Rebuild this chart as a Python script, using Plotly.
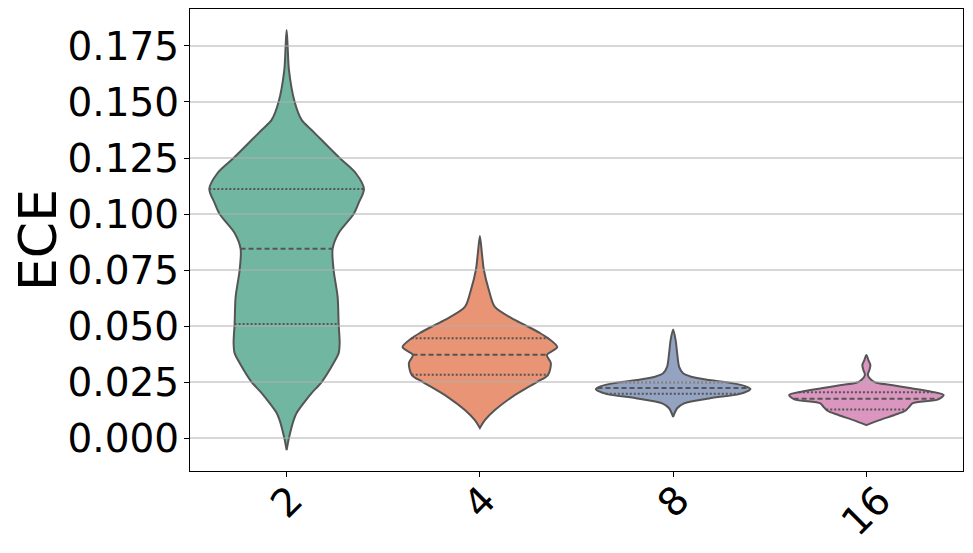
import numpy as np
import plotly.graph_objects as go

# group sizes on the x axis
categories = ["2", "4", "8", "16"]
colors = ["#71b6a1", "#e99575", "#95a3c3", "#db96c0"]

# violin outlines: ECE value and relative half width (1 = widest)
ece_2 = [0.1821, 0.1750, 0.1643, 0.1501, 0.1420, 0.1375, 0.1330, 0.1250, 0.1183, 0.1112, 0.1049, 0.1000,
         0.0915, 0.0844, 0.0750, 0.0629, 0.0509, 0.0424, 0.0379, 0.0335, 0.0250, 0.0201, 0.0156, 0.0112,
         0.0080, 0.0000, -0.0054]
dens_2 = [0, 0.013, 0.030, 0.103, 0.194, 0.323, 0.453, 0.686, 0.893, 1.0, 0.931, 0.867,
          0.673, 0.595, 0.608, 0.660, 0.673, 0.686, 0.673, 0.608, 0.453, 0.323, 0.220, 0.129,
          0.091, 0.030, 0]
ece_4 = [0.0902, 0.0826, 0.0750, 0.0661, 0.0585, 0.0527, 0.0500, 0.0469, 0.0446, 0.0406, 0.0371, 0.0335,
         0.0281, 0.0250, 0.0183, 0.0125, 0.0080, 0.0045]
dens_4 = [0, 0.026, 0.052, 0.116, 0.194, 0.453, 0.608, 0.776, 0.880, 1.0, 0.867, 0.918,
          0.880, 0.737, 0.414, 0.194, 0.065, 0]
ece_8 = [0.0485, 0.0438, 0.0379, 0.0318, 0.0289, 0.0274, 0.0259, 0.0244, 0.0232, 0.0219, 0.0208, 0.0196,
         0.0177, 0.0155, 0.0133, 0.0095]
dens_8 = [0, 0.032, 0.052, 0.078, 0.129, 0.233, 0.466, 0.776, 0.931, 1.0, 0.957, 0.854,
          0.466, 0.142, 0.052, 0]
ece_16 = [0.0371, 0.0348, 0.0326, 0.0304, 0.0281, 0.0259, 0.0247, 0.0237, 0.0222, 0.0207, 0.0192, 0.0173,
          0.0155, 0.0140, 0.0122, 0.0103, 0.0080, 0.0058]
dens_16 = [0, 0.026, 0.052, 0.039, 0.019, 0.065, 0.129, 0.323, 0.582, 0.841, 1.0, 0.931,
           0.595, 0.556, 0.505, 0.362, 0.168, 0]

# quartiles (q1, median, q3)
quart_2 = [0.0509, 0.0845, 0.1112]
quart_4 = [0.0283, 0.0372, 0.0445]
quart_8 = [0.0198, 0.0223, 0.0249]
quart_16 = [0.0127, 0.0176, 0.0204]

yticks = [0.0, 0.025, 0.05, 0.075, 0.1, 0.125, 0.15, 0.175]

profiles = [(ece_2, dens_2, quart_2), (ece_4, dens_4, quart_4),
            (ece_8, dens_8, quart_8), (ece_16, dens_16, quart_16)]

half = 0.4
edge = "#555555"
fig = go.Figure()

for i, (ece, dens, quart) in enumerate(profiles):
    ece = np.array(ece)
    w = np.array(dens) * half
    xs = np.concatenate([i + w, (i - w)[::-1]])
    ys = np.concatenate([ece, ece[::-1]])
    fig.add_trace(go.Scatter(x=xs, y=ys, mode="lines", fill="toself", fillcolor=colors[i],
                             line=dict(color=edge, width=2, shape="spline", smoothing=0.8),
                             hoverinfo="skip", showlegend=False))
    for j, q in enumerate(quart):
        hw = np.interp(q, ece[::-1], w[::-1])
        fig.add_trace(go.Scatter(x=[i - hw, i + hw], y=[q, q], mode="lines",
                                 line=dict(color=edge, width=2,
                                           dash="5px,3px" if j == 1 else "2px,2px"),
                                 hoverinfo="skip", showlegend=False))

# gridlines drawn over the violins, like the reference
for t in yticks:
    fig.add_shape(type="line", xref="paper", x0=0, x1=1, yref="y", y0=t, y1=t,
                  line=dict(color="#b0b0b0", width=1.1), layer="above")

# rotated category labels
for i, c in enumerate(categories):
    fig.add_annotation(x=i, y=0, xref="x", yref="paper", text=c, showarrow=False,
                       textangle=-45, xanchor="center", yanchor="top", yshift=-3,
                       font=dict(family="DejaVu Sans", size=39, color="black"))

# page body has an 8px margin, so the figure is a bit smaller than the window
fig.update_layout(
    width=965, height=545, autosize=False,
    plot_bgcolor="white", paper_bgcolor="white",
    margin=dict(l=182, r=10, t=1, b=82),
    font=dict(family="DejaVu Sans", color="black"),
)
fig.update_xaxes(range=[-0.5, 3.5], tickvals=[0, 1, 2, 3], showticklabels=False, automargin=False,
                 ticks="outside", ticklen=5, tickcolor="black", showgrid=False, zeroline=False,
                 showline=True, linecolor="black", linewidth=1, mirror=True)
fig.update_yaxes(range=[-0.0147, 0.1915], tickvals=yticks, tickformat=".3f", automargin=False,
                 ticks="outside", ticklen=5, tickcolor="black", showgrid=False, zeroline=False,
                 showline=True, linecolor="black", linewidth=1, mirror=True,
                 tickfont=dict(family="DejaVu Sans", size=39, color="black"),
                 ticklabelstandoff=-3,
                 title=dict(text="ECE", font=dict(family="DejaVu Sans", size=52, color="black"),
                            standoff=18))

fig.write_html("out.html")
